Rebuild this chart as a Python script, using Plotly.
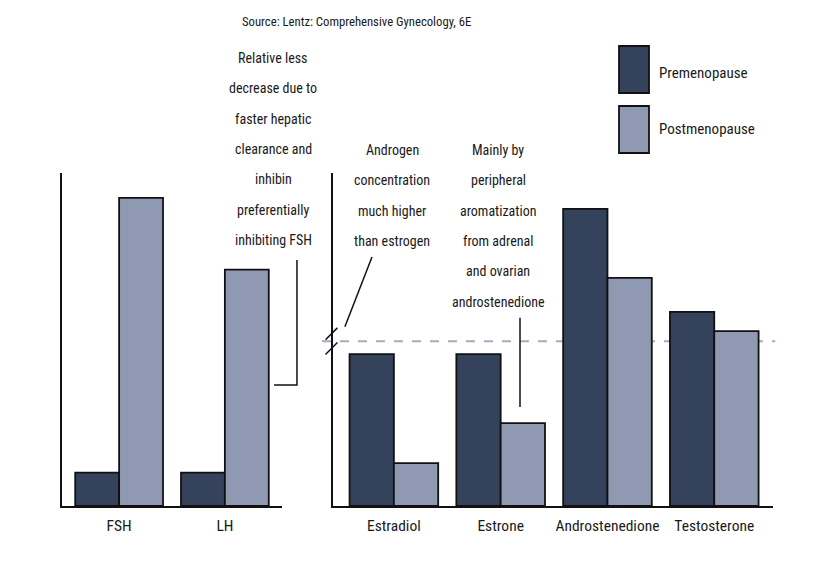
import plotly.graph_objects as go
from plotly.subplots import make_subplots

# Data (arbitrary relative units)
pituitary = ["FSH", "LH"]
pituitary_pre = [10, 10]
pituitary_post = [92.5, 71]

steroids = ["Estradiol", "Estrone", "Androstenedione", "Testosterone"]
steroid_pre = [45.6, 45.6, 89.2, 58.3]
steroid_post = [12.9, 24.9, 68.5, 52.5]

break_level = 49.5  # dashed line where the axis is broken

series_names = ["Premenopause", "Postmenopause"]
source_text = "Source: Lentz: Comprehensive Gynecology, 6E"
note_lh = ["Relative less", "decrease due to", "faster hepatic", "clearance and",
           "inhibin", "preferentially", "inhibiting FSH"]
note_androgen = ["Androgen", "concentration", "much higher", "than estrogen"]
note_estrone = ["Mainly by", "peripheral", "aromatization", "from adrenal",
                "and ovarian", "androstenedione"]

DARK = "#34425c"
LIGHT = "#8f9ab2"
DASH = "#a4acc4"
FONT = "Liberation Sans Narrow, Arial Narrow, Roboto Condensed, DejaVu Sans Condensed, sans-serif"

W, H = 830, 566
OFF = 8  # page body margin, targets below are page pixels
L, T = 62 - OFF, 173 - OFF
R, B = W - (773 - OFF), H - (506 - OFF)


def px(x):
    return (x - OFF - L) / (W - L - R)


def py(y):
    return (H - B - (y - OFF)) / (H - T - B)


fig = make_subplots(rows=1, cols=2, horizontal_spacing=0.05)

fig.add_trace(go.Bar(x=pituitary, y=pituitary_pre, name=series_names[0], marker_color=DARK),
              row=1, col=1)
fig.add_trace(go.Bar(x=pituitary, y=pituitary_post, name=series_names[1], marker_color=LIGHT),
              row=1, col=1)
fig.add_trace(go.Bar(x=steroids, y=steroid_pre, name=series_names[0], marker_color=DARK),
              row=1, col=2)
fig.add_trace(go.Bar(x=steroids, y=steroid_post, name=series_names[1], marker_color=LIGHT),
              row=1, col=2)
fig.update_traces(marker_line_color="#111111", marker_line_width=1.8, showlegend=False)

fig.update_layout(
    width=W, height=H,
    margin=dict(l=L, r=R, t=T, b=B),
    paper_bgcolor="white", plot_bgcolor="white",
    barmode="group", bargap=0.17, bargroupgap=0,
    font=dict(family=FONT, size=15, color="#1a1a1a"),
)

fig.update_xaxes(showline=True, linecolor="#111111", linewidth=2, ticks="",
                 showgrid=False, zeroline=False, ticklabelstandoff=4,
                 tickfont=dict(size=15.5, color="#1a1a1a"))
fig.update_yaxes(showline=True, linecolor="#111111", linewidth=1.5, ticks="",
                 showticklabels=False, showgrid=False, zeroline=False, range=[0, 100])
fig.update_layout(
    xaxis=dict(domain=[0, px(282)], range=[-0.54, 1.54]),
    xaxis2=dict(domain=[px(333), 1], range=[-0.57, 3.55]),
)

# dashed reference line across the right panel
fig.add_shape(type="line", xref="x2 domain", yref="y2", x0=-0.025, x1=1.005,
              y0=break_level, y1=break_level, layer="below",
              line=dict(color=DASH, width=2, dash="dash"))

# axis break marks
for dy in (-2.2, 2.2):
    fig.add_shape(type="line", xref="x2 domain", yref="y2",
                  x0=-0.017, x1=0.010, y0=break_level - 1.8 + dy, y1=break_level + 1.8 + dy,
                  line=dict(color="#111111", width=1.5))

# bracket pointing at LH
fig.add_shape(type="path", xref="x domain", yref="y",
              path="M 0.964 36.3 L 1.068 36.3 L 1.068 73.9",
              line=dict(color="#111111", width=1.5))

# leader lines on right panel
fig.add_shape(type="line", xref="x2 domain", yref="y2", x0=0.0886, y0=74.8, x1=0.027, y1=53.8,
              line=dict(color="#111111", width=1.5))
fig.add_shape(type="line", xref="x2 domain", yref="y2", x0=0.425, y0=56.5, x1=0.425, y1=29.7,
              line=dict(color="#111111", width=1.5))


def note(lines, cx, y0, step=30.3, size=14):
    for i, t in enumerate(lines):
        fig.add_annotation(text=t, xref="paper", yref="paper", x=px(cx), y=py(y0 + i * step),
                           showarrow=False, xanchor="center", yanchor="middle",
                           font=dict(size=size))


note([source_text], 356, 22, size=12.7)
note(note_lh, 273, 58)
note(note_androgen, 392, 150)
note(note_estrone, 498, 150)

# legend drawn by hand (tall swatches)
for (y0, y1), color, name, ty in [((46, 93), DARK, series_names[0], 73),
                                  ((106, 153), LIGHT, series_names[1], 129)]:
    fig.add_shape(type="rect", xref="paper", yref="paper", x0=px(619), x1=px(649),
                  y0=py(y1), y1=py(y0), fillcolor=color, line=dict(color="#111111", width=1.8))
    fig.add_annotation(text=name, xref="paper", yref="paper", x=px(657), y=py(ty),
                       showarrow=False, xanchor="left", yanchor="middle", font=dict(size=15))

fig.write_html("out.html")
